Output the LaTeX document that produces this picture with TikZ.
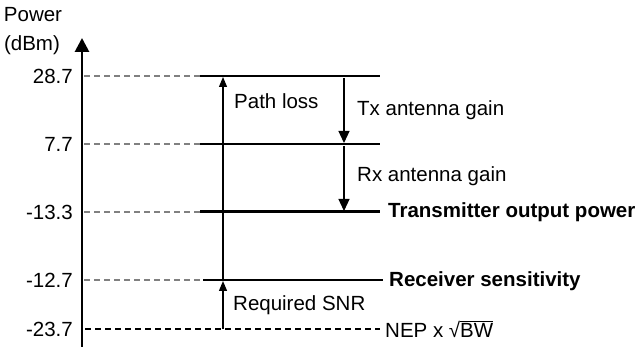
\documentclass[tikz,border=0pt]{standalone}
\usepackage{fontspec}
\setmainfont{Liberation Sans}
\usetikzlibrary{arrows.meta, positioning}

\begin{document}
\begin{tikzpicture}[
    x=1pt, y=-1pt,
    font=\fontsize{20.5}{24}\selectfont,
    every node/.style={inner sep=0pt},
    tick/.style={anchor=east},
    lbl/.style={anchor=west},
    guide/.style={draw=black!50, line width=1.5pt, dash pattern=on 6pt off 4pt},
    level/.style={draw, line width=1.5pt},
    mainlevel/.style={draw, line width=3pt},
    gain/.style={draw, line width=1.2pt, -{Triangle[length=12pt, width=11pt]}},
    loss/.style={draw, line width=1.2pt, -{Triangle[length=10pt, width=8pt]}}
]
    \useasboundingbox (0,0) rectangle (641,347);

    % Axis
    \coordinate (axB) at (82,347);
    \coordinate (axT) at (82,38);
    \draw[line width=2.8pt, -{Triangle[length=14pt, width=14pt]}] (axB) -- (axT);
    \node (pw) at (33,15) {Power};
    \node (dbm) at (32,45) {(dBm)};

    % Tick labels
    \node[tick] (t1) at (73,76) {28.7};
    \node[tick] (t2) at (73,144) {7.7};
    \node[tick] (t3) at (73,212) {-13.3};
    \node[tick] (t4) at (73,280) {-12.7};
    \node[tick] (t5) at (73,329) {-23.7};

    % Levels
    \coordinate (a1) at (200,76);  \coordinate (b1) at (380,76);
    \coordinate (a2) at (200,144); \coordinate (b2) at (380,144);
    \coordinate (a3) at (200,212); \coordinate (b3) at (380,212);
    \coordinate (a4) at (203,280); \coordinate (b4) at (383,280);
    \coordinate (b5) at (380,329);
    \foreach \i in {1,...,4} {
        \draw[guide] (axB |- a\i) ++(2,0) -- (a\i);
    }
    \draw[level] (a1) -- (b1);
    \draw[level] (a2) -- (b2);
    \draw[mainlevel] (a3) -- (b3);
    \draw[level] (a4) -- (b4);
    \draw[line width=1.5pt, dash pattern=on 6pt off 4pt] (axB |- b5) ++(3,0) -- (b5);

    % Level names
    \node[lbl, font=\fontsize{20.5}{24}\selectfont\bfseries] (tx) at (388,212) {Transmitter output power};
    \node[lbl, font=\fontsize{20.5}{24}\selectfont\bfseries] (rx) at (389,281) {Receiver sensitivity};
    \node[lbl] (nep) at (385,329) {NEP x √$\overline{\hbox{BW}}$};

    % Arrows
    \coordinate (pl0) at (223,280);
    \coordinate (pl1) at (223,77);
    \coordinate (snr0) at (223,329);
    \coordinate (snr1) at (223,281);
    \coordinate (g0) at (344,78);
    \coordinate (g1) at (344,143);
    \coordinate (g2) at (344,146);
    \coordinate (g3) at (344,211);
    \draw[loss] (pl0) -- (pl1);
    \draw[loss] (snr0) -- (snr1);
    \draw[gain] (g0) -- (g1);
    \draw[gain] (g2) -- (g3);
    \node[lbl] (pl) at (234,101) {Path loss};
    \node[lbl] (snr) at (233,305) {Required SNR};
    \node[lbl] (txg) at (357,110) {Tx antenna gain};
    \node[lbl] (rxg) at (357,176) {Rx antenna gain};

\end{tikzpicture}
\end{document}
